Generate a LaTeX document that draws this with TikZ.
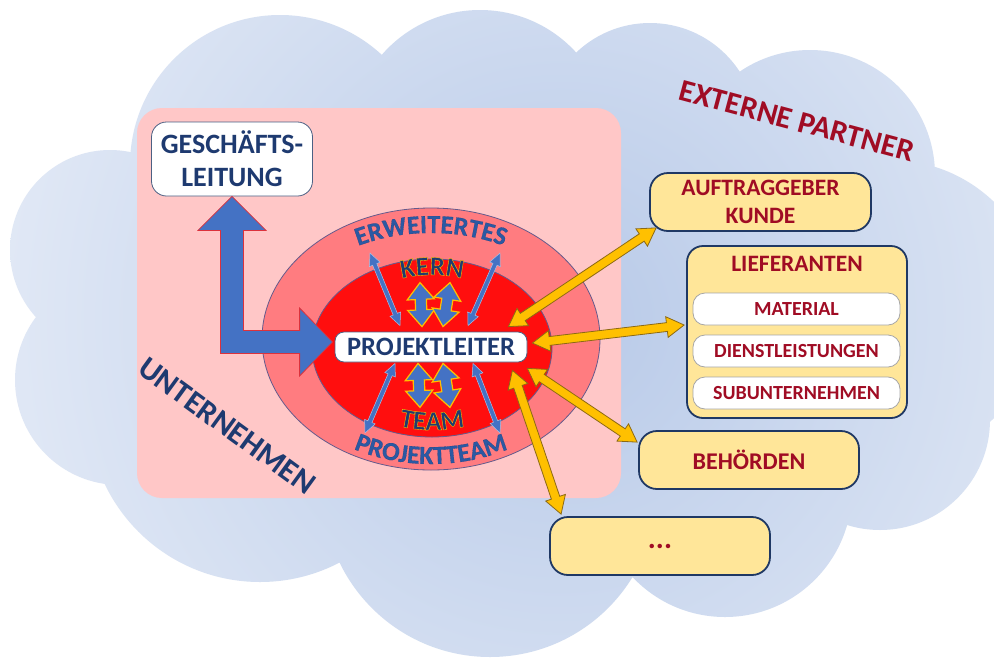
\documentclass[tikz,border=0pt]{standalone}
\usepackage{fontspec}
\setmainfont{Carlito}
\usetikzlibrary{calc,shapes.arrows,decorations.text}
\definecolor{navy}{RGB}{30,58,112}
\definecolor{dred}{RGB}{160,12,36}
\definecolor{pinkbg}{RGB}{255,199,199}
\definecolor{salmon}{RGB}{255,124,128}
\definecolor{redin}{RGB}{255,14,14}
\definecolor{ringline}{RGB}{100,90,140}
\definecolor{ablue}{RGB}{68,114,196}
\definecolor{ayel}{RGB}{255,192,0}
\definecolor{aout}{RGB}{140,105,20}
\definecolor{boxyel}{RGB}{255,230,153}
\definecolor{boxline}{RGB}{31,56,100}
\definecolor{ringtext}{RGB}{40,85,155}
\definecolor{larrowline}{RGB}{220,50,60}
\pgfdeclareradialshading{cloudsh}{\pgfpoint{0bp}{0bp}}{rgb(0bp)=(0.72,0.79,0.91); rgb(25bp)=(0.92,0.94,0.975); rgb(50bp)=(0.92,0.94,0.975)}
\newcommand\myfs[2]{\fontsize{#1}{#2}\selectfont\bfseries}
\newcommand\ringfont{\fontsize{26}{26}\selectfont\bfseries\color{ringtext}\special{pdf:literal direct 0.17 0.35 0.64 rg 0.12 0.24 0.48 RG 0.12 w 2 Tr}}
\newcommand\kernfont{\fontsize{27}{27}\selectfont\bfseries\color{navy}\special{pdf:literal direct 0.12 0.23 0.44 rg 1 0.75 0 RG 0.4 w 2 Tr}}
\newcommand\darr[3]{\path let \p1=($(#3)-(#2)$), \n1={atan2(\y1,\x1)}, \n2={veclen(\x1,\y1)} in node[double arrow, inner sep=0pt, minimum width=0pt, #1, rotate=\n1, minimum height=\n2] at ($(#2)!0.5!(#3)$) {};}
\tikzset{
  whitebox/.style={draw=boxline!80, line width=0.8, fill=white, rounded corners=12, inner sep=0pt, align=center},
  ybox/.style={draw=boxline, line width=1.8, fill=boxyel, rounded corners=18, inner sep=0pt, align=center, text=dred},
  subbox/.style={draw=gray!70, line width=0.8, fill=white, rounded corners=12, minimum width=207, minimum height=32, inner sep=0pt, text=dred, font=\myfs{20}{20}},
  thinarr/.style={fill=ablue, draw=ablue!45!white, line width=0.5, inner ysep=2pt, double arrow head extend=3.5pt, double arrow tip angle=50},
  fatarr/.style={fill=ablue, draw=ayel, line width=1.2, inner ysep=5pt, double arrow head extend=8pt, double arrow tip angle=78},
  orarr/.style={fill=ayel, draw=aout, line width=0.8, inner ysep=4pt, double arrow head extend=6pt, double arrow tip angle=62},
}
\begin{document}
\begin{tikzpicture}[x=1pt,y=1pt]
\useasboundingbox (0,0) rectangle (994,-657);
\fill[white] (0,0) rectangle (994,-657);
% cloud
\begin{scope}
\clip (110,-250) circle (100) (120,-380) circle (105) (280,-165) circle (150)
      (480,-140) circle (130) (650,-130) circle (107) (810,-175) circle (125)
      (890,-310) circle (150) (880,-420) circle (110) (725,-490) circle (127)
      (490,-490) circle (167) (260,-410) circle (172) (500,-330) ellipse (420 and 250);
\shade[shading=cloudsh] (560,-320) circle (700);
\end{scope}
% company area
\fill[pinkbg, rounded corners=25] (137,-108) rectangle (621,-498);
\draw[ringline, line width=0.8, fill=salmon] (431,-339) ellipse (169 and 131);
\draw[ringline, line width=0.8, fill=redin] (432,-348) ellipse (120 and 89);
\coordinate (oc) at (431,-340);
\coordinate (ic) at (432,-348);
% ring texts
\path[decorate, decoration={text along path, text={|\ringfont|ERWEITERTES}, text align=center}]
  ([shift={(160:153 and 107)}]oc) arc (160:20:153 and 107);
\path[decorate, decoration={text along path, text={|\ringfont|PROJEKTTEAM}, text align=center}]
  ([shift={(200:162 and 124)}]oc) arc (200:340:162 and 124);
\path[decorate, decoration={text along path, text={|\kernfont|KERN}, text align=center}]
  ([shift={(150:98 and 73)}]ic) arc (150:30:98 and 73);
\path[decorate, decoration={text along path, text={|\kernfont|TEAM}, text align=center}]
  ([shift={(210:110 and 82)}]ic) arc (210:330:110 and 82);
% nodes
\node[whitebox, rounded corners=9, minimum width=192, minimum height=30, text=navy, font=\myfs{26.5}{30}] (PL) at (431,-347) {PROJEKTLEITER};
\node[whitebox, rounded corners=15, minimum width=161, minimum height=74, text=navy, font=\myfs{28}{33}] (GL) at (232,-159) {GESCHÄFTS-\\LEITUNG};
\node[ybox, minimum width=221, minimum height=58, font=\myfs{23.5}{28}] (AK) at (760.5,-202) {AUFTRAGGEBER\\KUNDE};
\node[ybox, rounded corners=16, minimum width=220, minimum height=172] (LF) at (797,-332) {};
\node[text=dred, font=\myfs{23.5}{23}] (LFt) at ($(LF.north)+(0,-19)$) {LIEFERANTEN};
\node[subbox] (MAT) at (796.5,-309) {MATERIAL};
\node[subbox] (DL) at (796.5,-351) {DIENSTLEISTUNGEN};
\node[subbox] (SU) at (796.5,-393) {SUBUNTERNEHMEN};
\node[ybox, minimum width=220, minimum height=58, font=\myfs{24}{28}] (BH) at (749,-460) {BEHÖRDEN};
\node[ybox, minimum width=220, minimum height=58, font=\myfs{30}{30}] (DOTS) at (660,-546) {...};
\node[rotate=-15, text=dred, font=\myfs{31}{31}] (EP) at (797,-121) {EXTERNE PARTNER};
\node[rotate=-36, text=navy, font=\myfs{31.5}{31}] (UN) at (227,-426) {UNTERNEHMEN};
% thin ring arrows
\coordinate (b1a) at (370,-253); \coordinate (b1b) at ($(PL.north)+(-31,6)$);
\coordinate (b2a) at (500,-253); \coordinate (b2b) at ($(PL.north)+(37,6)$);
\coordinate (b3a) at ($(PL.south)+(-36,-1)$); \coordinate (b3b) at (365,-433);
\coordinate (b4a) at ($(PL.south)+(42,-1)$); \coordinate (b4b) at (500,-433);
\darr{thinarr}{b1a}{b1b}
\darr{thinarr}{b2a}{b2b}
\darr{thinarr}{b3a}{b3b}
\darr{thinarr}{b4a}{b4b}
% fat core arrows
\coordinate (f1a) at ($(PL.north)+(-11,49)$); \coordinate (f1b) at ($(PL.north)+(-9,5)$);
\coordinate (f2a) at ($(PL.north)+(19,49)$); \coordinate (f2b) at ($(PL.north)+(12,5)$);
\coordinate (f3a) at ($(PL.south)+(-13,-1)$); \coordinate (f3b) at ($(PL.south)+(-11,-45)$);
\coordinate (f4a) at ($(PL.south)+(12,-1)$); \coordinate (f4b) at ($(PL.south)+(19,-45)$);
\darr{fatarr}{f1a}{f1b}
\darr{fatarr}{f2a}{f2b}
\darr{fatarr}{f3a}{f3b}
\darr{fatarr}{f4a}{f4b}
% L arrow
\coordinate (t1) at (GL.south);
\coordinate (t2) at ($(PL.west)+(-2,5)$);
\filldraw[fill=ablue, draw=larrowline, line width=0.8] let \p1=(t1), \p2=(t2) in
  (\x1-11.5pt,\y2-11.5pt) -- (\x2-33pt,\y2-11.5pt) -- (\x2-33pt,\y2-34pt) -- (\p2)
  -- (\x2-33pt,\y2+34pt) -- (\x2-33pt,\y2+11.5pt) -- (\x1+11.5pt,\y2+11.5pt)
  -- (\x1+11.5pt,\y1-34pt) -- (\x1+34pt,\y1-34pt) -- (\p1) -- (\x1-34pt,\y1-34pt)
  -- (\x1-11.5pt,\y1-34pt) -- cycle;
% orange arrows
\coordinate (o1a) at ($(PL.north east)+(-19,5)$); \coordinate (o1b) at ($(AK.south west)+(7,4)$);
\coordinate (o2a) at ($(PL.east)+(5,4)$); \coordinate (o2b) at ($(LF.west)+(-2,7)$);
\coordinate (o3a) at ($(PL.south east)+(0,-6)$); \coordinate (o3b) at ($(BH.north west)+(-1,-12)$);
\coordinate (o4a) at ($(PL.south east)+(-15,-8)$); \coordinate (o4b) at ($(DOTS.north west)+(12,2)$);
\darr{orarr}{o1a}{o1b}
\darr{orarr}{o2a}{o2b}
\darr{orarr}{o3a}{o3b}
\darr{orarr}{o4a}{o4b}
\end{tikzpicture}
\end{document}
